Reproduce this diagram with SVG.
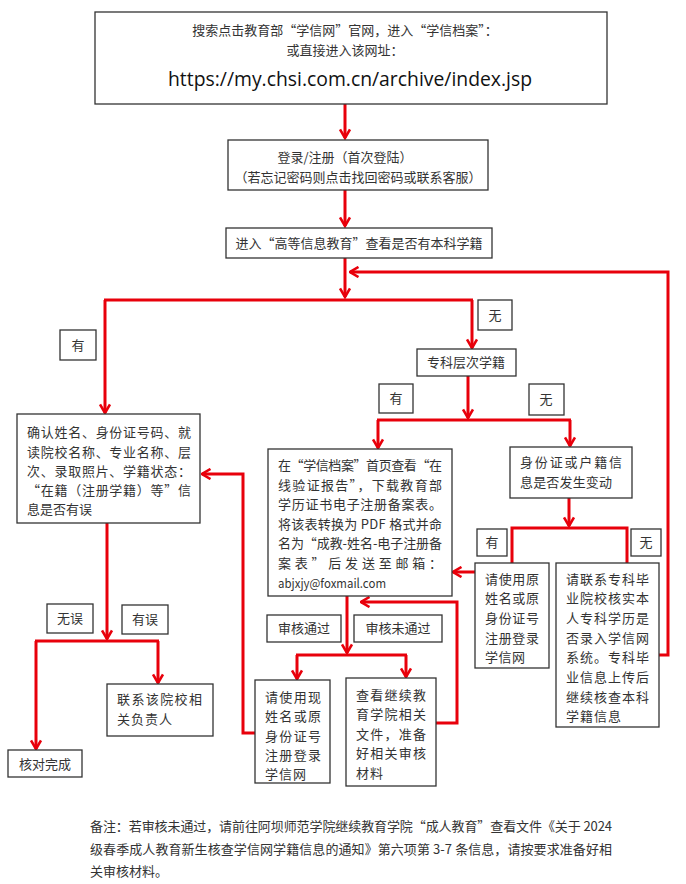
<svg xmlns="http://www.w3.org/2000/svg" width="686" height="884" viewBox="0 0 686 884">
<defs>
<style>
.box{fill:#fff;stroke:#333;stroke-width:1.3}
.t{font-family:"Noto Sans CJK SC","Noto Sans",sans-serif;font-size:13px;fill:#333}
.c{text-anchor:middle}
.url{font-family:"Open Sans","Liberation Sans",sans-serif;font-size:20px;fill:#111}
.ln{fill:none;stroke:#e8000b;stroke-width:3}
</style>
<marker id="ar" viewBox="0 0 12 12" refX="10.5" refY="6" markerWidth="12" markerHeight="12" markerUnits="userSpaceOnUse" orient="auto">
<path d="M2,1 L10.5,6 L2,11" fill="none" stroke="#e8000b" stroke-width="2.6"/>
</marker>
</defs>
<rect width="686" height="884" fill="#fff"/>

<g id="connectors">
<line class="ln" x1="345" y1="104" x2="345" y2="138" marker-end="url(#ar)"/>
<line class="ln" x1="345" y1="190" x2="345" y2="226" marker-end="url(#ar)"/>
<line class="ln" x1="345" y1="258" x2="345" y2="297" marker-end="url(#ar)"/>
<polyline class="ln" points="659,655 668,655 668,272 350,272" marker-end="url(#ar)"/>
<line class="ln" x1="104" y1="300" x2="473" y2="300"/>
<line class="ln" x1="105" y1="300" x2="105" y2="413" marker-end="url(#ar)"/>
<line class="ln" x1="472" y1="300" x2="472" y2="348" marker-end="url(#ar)"/>
<line class="ln" x1="468" y1="376" x2="468" y2="418" marker-end="url(#ar)"/>
<line class="ln" x1="377" y1="420" x2="571" y2="420"/>
<line class="ln" x1="378" y1="420" x2="378" y2="448" marker-end="url(#ar)"/>
<line class="ln" x1="570" y1="420" x2="570" y2="446" marker-end="url(#ar)"/>
<line class="ln" x1="569" y1="498" x2="569" y2="526" marker-end="url(#ar)"/>
<polyline class="ln" points="512,563 512,528 627,528 627,563"/>
<line class="ln" x1="475" y1="572" x2="453" y2="572" marker-end="url(#ar)"/>
<line class="ln" x1="107" y1="523" x2="107" y2="639" marker-end="url(#ar)"/>
<line class="ln" x1="35" y1="641" x2="159" y2="641"/>
<line class="ln" x1="36" y1="641" x2="36" y2="749" marker-end="url(#ar)"/>
<line class="ln" x1="158" y1="641" x2="158" y2="683" marker-end="url(#ar)"/>
<polyline class="ln" points="255,733 243,733 243,474 202,474" marker-end="url(#ar)"/>
<line class="ln" x1="347" y1="596" x2="347" y2="653" marker-end="url(#ar)"/>
<line class="ln" x1="296" y1="655" x2="407" y2="655"/>
<line class="ln" x1="297" y1="655" x2="297" y2="679" marker-end="url(#ar)"/>
<line class="ln" x1="406" y1="655" x2="406" y2="677" marker-end="url(#ar)"/>
<polyline class="ln" points="436,723 457,723 457,602 361,602" marker-end="url(#ar)"/>
</g>

<g id="n-start">
<rect class="box" x="95" y="12" width="512" height="92"/>
<text class="t c" x="345" y="35">搜索点击教育部“学信网”官网，进入“学信档案”：</text>
<text class="t c" x="345" y="55">或直接进入该网址：</text>
<text class="url" x="168" y="86" textLength="364" lengthAdjust="spacingAndGlyphs">https://my.chsi.com.cn/archive/index.jsp</text>
</g>

<g id="n-login">
<rect class="box" x="228" y="140" width="260" height="50"/>
<text class="t c" x="345" y="162">登录/注册（首次登陆）</text>
<text class="t c" x="358" y="182">（若忘记密码则点击找回密码或联系客服）</text>
</g>

<g id="n-check">
<rect class="box" x="226" y="228" width="266" height="30"/>
<text class="t c" x="359" y="248">进入“高等信息教育”查看是否有本科学籍</text>
</g>

<g id="l-you1">
<rect class="box" x="60" y="330" width="36" height="30"/>
<text class="t c" x="78" y="350">有</text>
</g>
<g id="l-wu1">
<rect class="box" x="478" y="300" width="34" height="30"/>
<text class="t c" x="495" y="320">无</text>
</g>

<g id="n-zhuanke">
<rect class="box" x="417" y="349" width="99" height="27"/>
<text class="t c" x="466" y="367">专科层次学籍</text>
</g>

<g id="l-you2">
<rect class="box" x="379" y="384" width="34" height="29"/>
<text class="t c" x="396" y="403">有</text>
</g>
<g id="l-wu2">
<rect class="box" x="529" y="384" width="35" height="31"/>
<text class="t c" x="546" y="404">无</text>
</g>

<g id="n-confirm">
<rect class="box" x="17" y="414" width="183" height="109"/>
<text class="t" x="27" y="437" textLength="164" lengthAdjust="spacing">确认姓名、身份证号码、就</text>
<text class="t" x="27" y="457" textLength="164" lengthAdjust="spacing">读院校名称、专业名称、层</text>
<text class="t" x="27" y="476" textLength="164" lengthAdjust="spacing">次、录取照片、学籍状态：</text>
<text class="t" x="27" y="495" textLength="164" lengthAdjust="spacing">“在籍（注册学籍）等”信</text>
<text class="t" x="27" y="514" textLength="65" lengthAdjust="spacing">息是否有误</text>
</g>

<g id="n-archive">
<rect class="box" x="268" y="449" width="184" height="147"/>
<text class="t" x="278" y="470" textLength="164" lengthAdjust="spacing">在“学信档案”首页查看“在</text>
<text class="t" x="278" y="490" textLength="164" lengthAdjust="spacing">线验证报告”，下载教育部</text>
<text class="t" x="278" y="509" textLength="164" lengthAdjust="spacing">学历证书电子注册备案表。</text>
<text class="t" x="278" y="529" textLength="164" lengthAdjust="spacing">将该表转换为 PDF 格式并命</text>
<text class="t" x="278" y="548" textLength="164" lengthAdjust="spacing">名为“成教-姓名-电子注册备</text>
<text class="t" x="278" y="568" textLength="164" lengthAdjust="spacing">案表”后发送至邮箱：</text>
<text class="t" x="278" y="588" textLength="108" lengthAdjust="spacingAndGlyphs">abjxjy@foxmail.com</text>
</g>

<g id="n-idchange">
<rect class="box" x="510" y="447" width="122" height="51"/>
<text class="t" x="520" y="467" textLength="102" lengthAdjust="spacing">身份证或户籍信</text>
<text class="t" x="520" y="487" textLength="92" lengthAdjust="spacing">息是否发生变动</text>
</g>

<g id="l-you3">
<rect class="box" x="477" y="529" width="30" height="27"/>
<text class="t c" x="492" y="547">有</text>
</g>
<g id="l-wu3">
<rect class="box" x="631" y="529" width="30" height="27"/>
<text class="t c" x="646" y="547">无</text>
</g>

<g id="n-orig">
<rect class="box" x="475" y="563" width="74" height="105"/>
<text class="t" x="485" y="584" textLength="54" lengthAdjust="spacing">请使用原</text>
<text class="t" x="485" y="603" textLength="54" lengthAdjust="spacing">姓名或原</text>
<text class="t" x="485" y="623" textLength="54" lengthAdjust="spacing">身份证号</text>
<text class="t" x="485" y="643" textLength="54" lengthAdjust="spacing">注册登录</text>
<text class="t" x="485" y="662" textLength="40" lengthAdjust="spacing">学信网</text>
</g>

<g id="n-contact-zk">
<rect class="box" x="556" y="563" width="103" height="164"/>
<text class="t" x="566" y="584" textLength="83" lengthAdjust="spacing">请联系专科毕</text>
<text class="t" x="566" y="603" textLength="83" lengthAdjust="spacing">业院校核实本</text>
<text class="t" x="566" y="623" textLength="83" lengthAdjust="spacing">人专科学历是</text>
<text class="t" x="566" y="643" textLength="83" lengthAdjust="spacing">否录入学信网</text>
<text class="t" x="566" y="662" textLength="83" lengthAdjust="spacing">系统。专科毕</text>
<text class="t" x="566" y="682" textLength="83" lengthAdjust="spacing">业信息上传后</text>
<text class="t" x="566" y="702" textLength="83" lengthAdjust="spacing">继续核查本科</text>
<text class="t" x="566" y="721" textLength="55" lengthAdjust="spacing">学籍信息</text>
</g>

<g id="l-wuwu">
<rect class="box" x="47" y="604" width="46" height="29"/>
<text class="t c" x="70" y="623">无误</text>
</g>
<g id="l-youwu">
<rect class="box" x="122" y="605" width="46" height="29"/>
<text class="t c" x="145" y="624">有误</text>
</g>

<g id="l-pass">
<rect class="box" x="267" y="615" width="74" height="27"/>
<text class="t c" x="304" y="633">审核通过</text>
</g>
<g id="l-fail">
<rect class="box" x="354" y="615" width="88" height="27"/>
<text class="t c" x="398" y="633">审核未通过</text>
</g>

<g id="n-contact-school">
<rect class="box" x="107" y="684" width="106" height="52"/>
<text class="t" x="117" y="704" textLength="85" lengthAdjust="spacing">联系该院校相</text>
<text class="t" x="117" y="724" textLength="55" lengthAdjust="spacing">关负责人</text>
</g>

<g id="n-done">
<rect class="box" x="8" y="750" width="74" height="27"/>
<text class="t c" x="45" y="769">核对完成</text>
</g>

<g id="n-current">
<rect class="box" x="255" y="680" width="75" height="103"/>
<text class="t" x="265" y="702" textLength="56" lengthAdjust="spacing">请使用现</text>
<text class="t" x="265" y="721" textLength="56" lengthAdjust="spacing">姓名或原</text>
<text class="t" x="265" y="741" textLength="56" lengthAdjust="spacing">身份证号</text>
<text class="t" x="265" y="760" textLength="56" lengthAdjust="spacing">注册登录</text>
<text class="t" x="265" y="779" textLength="41" lengthAdjust="spacing">学信网</text>
</g>

<g id="n-materials">
<rect class="box" x="346" y="678" width="90" height="108"/>
<text class="t" x="356" y="700" textLength="70" lengthAdjust="spacing">查看继续教</text>
<text class="t" x="356" y="719" textLength="70" lengthAdjust="spacing">育学院相关</text>
<text class="t" x="356" y="739" textLength="70" lengthAdjust="spacing">文件，准备</text>
<text class="t" x="356" y="758" textLength="70" lengthAdjust="spacing">好相关审核</text>
<text class="t" x="356" y="778" textLength="27" lengthAdjust="spacing">材料</text>
</g>

<g id="note">
<text class="t" x="90" y="831" textLength="522" lengthAdjust="spacing">备注：若审核未通过，请前往阿坝师范学院继续教育学院“成人教育”查看文件《关于 2024</text>
<text class="t" x="90" y="854" textLength="522" lengthAdjust="spacing">级春季成人教育新生核查学信网学籍信息的通知》第六项第 3-7 条信息，请按要求准备好相</text>
<text class="t" x="90" y="876">关审核材料。</text>
</g>
</svg>
